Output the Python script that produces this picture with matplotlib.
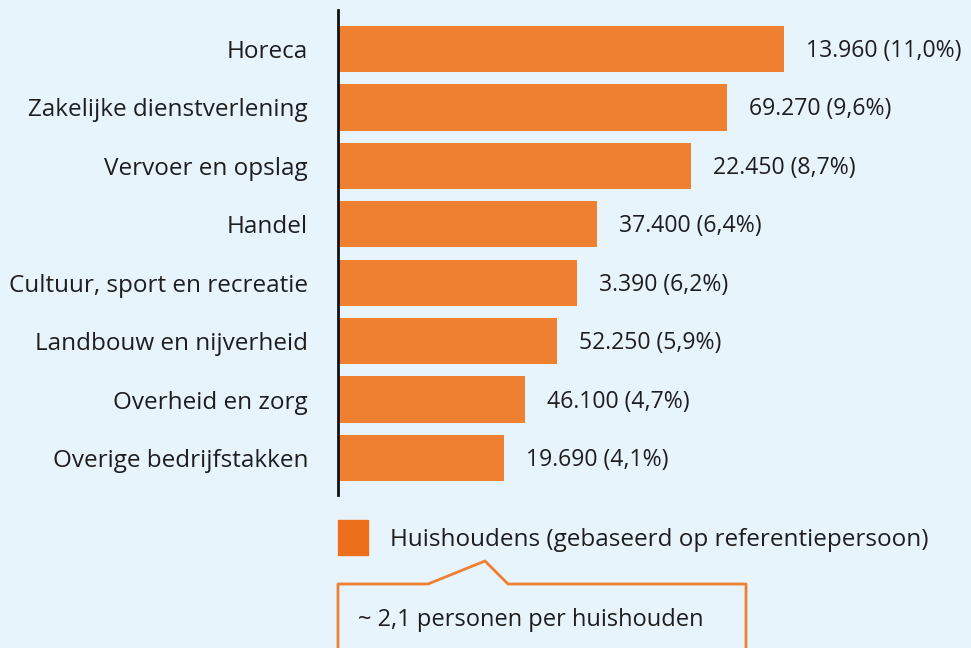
import numpy as np
import matplotlib.pyplot as plt
from matplotlib.lines import Line2D
from matplotlib.patches import Rectangle

plt.rcParams['font.family'] = ['Open Sans', 'DejaVu Sans']

sectoren = ["Horeca", "Zakelijke dienstverlening", "Vervoer en opslag", "Handel",
            "Cultuur, sport en recreatie", "Landbouw en nijverheid",
            "Overheid en zorg", "Overige bedrijfstakken"]
aantallen = ["13.960", "69.270", "22.450", "37.400", "3.390", "52.250", "46.100", "19.690"]
percentages = ["11,0", "9,6", "8,7", "6,4", "6,2", "5,9", "4,7", "4,1"]
# balklengtes zoals getekend in het origineel (in %)
lengtes = [11.0, 9.6, 8.7, 6.4, 5.9, 5.4, 4.6, 4.1]

bg = "#E8F4FC"
oranje = "#EF7F31"
tekst = "#1e1e1e"

W, H = 971, 648
fig = plt.figure(figsize=(W / 100, H / 100), dpi=100, facecolor=bg)
ax = fig.add_axes([338 / W, 1 - 495 / H, 1 - 338 / W, 485 / H])
ax.set_facecolor(bg)

y = np.arange(len(sectoren))
ax.barh(y, lengtes, height=0.79, color=oranje)
ax.set_xlim(0, 11.0 * (W - 338) / 446)
ax.set_ylim(7.634, -0.668)

for yi, n, p, l in zip(y, aantallen, percentages, lengtes):
    ax.annotate(f"{n} ({p}%)", (l, yi), xytext=(22, -2), textcoords="offset pixels",
                va="center", ha="left", fontsize=16.6, color=tekst)

ax.set_yticks(y)
ax.set_yticklabels(sectoren, fontsize=17.5, color=tekst)
ax.tick_params(axis="y", length=0, pad=21.6)
ax.set_xticks([])
for s in ["top", "right", "bottom"]:
    ax.spines[s].set_visible(False)
ax.spines["left"].set_linewidth(2)
ax.spines["left"].set_color("#111111")

# legenda
fig.add_artist(Rectangle((338 / W, 1 - 555 / H), 30 / W, 35 / H, color="#EE6F1B",
                         transform=fig.transFigure))
fig.text(390 / W, 1 - 540 / H, "Huishoudens (gebaseerd op referentiepersoon)",
         fontsize=17.5, color=tekst, va="center", ha="left")

# callout
px = [338, 338, 428, 485, 508, 746, 746]
py = [660, 584, 584, 561, 584, 584, 660]
fig.add_artist(Line2D([x / W for x in px], [1 - v / H for v in py], color=oranje, lw=2,
                      transform=fig.transFigure))
fig.text(358 / W, 1 - 620 / H, "~ 2,1 personen per huishouden",
         fontsize=17, color=tekst, va="center", ha="left")

fig.savefig("out.png", dpi=100, facecolor=bg)
